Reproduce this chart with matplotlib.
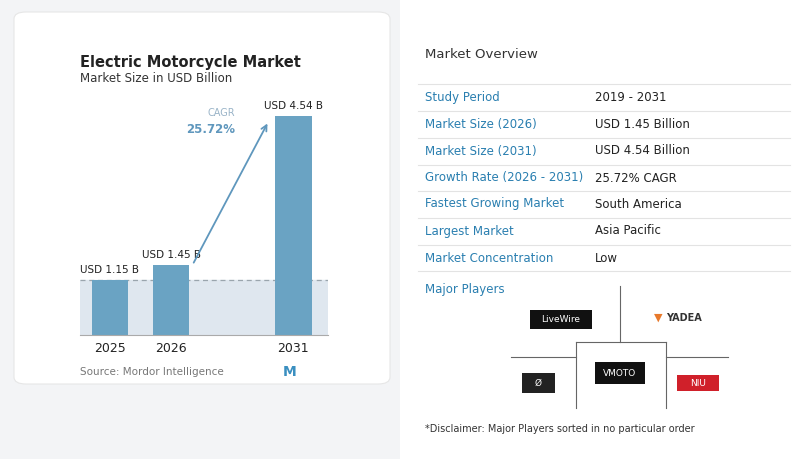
import matplotlib.pyplot as plt
from matplotlib.patches import FancyBboxPatch, Rectangle

years = ["2025", "2026", "2031"]
positions = [0, 1, 3]
sizes = [1.15, 1.45, 4.54]
size_labels = ["USD 1.15 B", "USD 1.45 B", "USD 4.54 B"]

overview_keys = ["Study Period", "Market Size (2026)", "Market Size (2031)",
                 "Growth Rate (2026 - 2031)", "Fastest Growing Market",
                 "Largest Market", "Market Concentration"]
overview_vals = ["2019 - 2031", "USD 1.45 Billion", "USD 4.54 Billion",
                 "25.72% CAGR", "South America", "Asia Pacific", "Low"]

W, H = 800, 459
BLUE = "#2a7fb0"
DARK = "#222222"

fig = plt.figure(figsize=(8, 4.59), dpi=100)
fig.patch.set_facecolor("#f3f4f6")


def px(x, y):
    return x / W, 1 - y / H


# cards (drawn under the axes)
fig.patches.append(FancyBboxPatch(px(14, 384), 376 / W, 372 / H,
                                  boxstyle="round,pad=0,rounding_size=0.015",
                                  transform=fig.transFigure, fc="white", ec="#e6e6e6",
                                  lw=0.8, zorder=-2))
fig.patches.append(Rectangle(px(400, 459), 400 / W, 459 / H,
                             transform=fig.transFigure, fc="white", ec="none", zorder=-2))

fig.text(*px(80, 62), "Electric Motorcycle Market", fontsize=10.5, fontweight="bold", color=DARK, va="center")
fig.text(*px(80, 79), "Market Size in USD Billion", fontsize=8.5, color="#333333", va="center")

# bar chart
ax = fig.add_axes([80 / W, 1 - 335 / H, 248 / W, 241 / H])
ax.set_zorder(1)
ax.set_xlim(-0.49, 3.57)
ax.set_ylim(0, 5)
ax.axhspan(0, sizes[0], color="#dfe7ef", zorder=0)
ax.bar(positions, sizes, width=0.6, color="#6aa3c3", zorder=2)
ax.axhline(sizes[0], color="#9aa5ad", ls=(0, (4, 3)), lw=0.9, zorder=1)
for p, s, lab in zip(positions, sizes, size_labels):
    ax.text(p, s + 0.1, lab, ha="center", va="bottom", fontsize=7.5, color=DARK)
ax.set_xticks(positions)
ax.set_xticklabels(years, fontsize=9, color=DARK)
ax.tick_params(length=0, pad=5)
ax.set_yticks([])
for sp in ["top", "right", "left"]:
    ax.spines[sp].set_visible(False)
ax.spines["bottom"].set_color("#aaaaaa")
ax.patch.set_alpha(0)
ax.annotate("", xy=(2.6, sizes[2] - 0.1), xytext=(1.35, sizes[1]),
            arrowprops=dict(arrowstyle="->", color="#5f97bd", lw=1.3))
ax.text(2.05, 4.55, "CAGR", ha="right", fontsize=7, color="#9ab4c8")
ax.text(2.05, 4.2, "25.72%", ha="right", fontsize=8.5, fontweight="bold", color="#5f97bd")

fig.text(*px(80, 372), "Source: Mordor Intelligence", fontsize=7.5, color="#777777", va="center")
fig.text(*px(290, 372), "M", fontsize=10, fontweight="bold", color="#3a8fc0", ha="center", va="center")

# overview
fig.text(*px(425, 55), "Market Overview", fontsize=9.5, color="#333333", va="center")
row_y = [97, 124, 151, 178, 204, 231, 258]
for y, k, v in zip(row_y, overview_keys, overview_vals):
    fig.text(*px(425, y), k, fontsize=8.5, color=BLUE, va="center")
    fig.text(*px(595, y), v, fontsize=8.5, color=DARK, va="center")
for y in [84, 111, 138, 165, 191, 218, 245, 271]:
    fig.lines.append(plt.Line2D([418 / W, 790 / W], [1 - y / H] * 2,
                                transform=fig.transFigure, color="#e3e3e3", lw=0.8))

fig.text(*px(425, 289), "Major Players", fontsize=8.5, color=BLUE, va="center")
grid = [((620, 286), (620, 342)), ((576, 342), (666, 342)), ((576, 342), (576, 408)),
        ((666, 342), (666, 408)), ((511, 357), (576, 357)), ((666, 357), (728, 357))]
for (x0, y0), (x1, y1) in grid:
    fig.lines.append(plt.Line2D([x0 / W, x1 / W], [1 - y0 / H, 1 - y1 / H],
                                transform=fig.transFigure, color="#666666", lw=0.8))

logos = [(530, 310, 62, 19, "#111111", "LiveWire", "white"),
         (595, 362, 50, 22, "#111111", "VMOTO", "white"),
         (522, 373, 33, 20, "#222222", "Ø", "white"),
         (677, 375, 42, 16, "#d0202a", "NIU", "white")]
for x, y, w, h, fc, t, tc in logos:
    fig.patches.append(Rectangle(px(x, y + h), w / W, h / H, transform=fig.transFigure, fc=fc, ec="none"))
    fig.text(*px(x + w / 2, y + h / 2), t, fontsize=6.5, color=tc, ha="center", va="center")
fig.text(*px(666, 318), "YADEA", fontsize=7, fontweight="bold", color="#333333", ha="left", va="center")
fig.text(*px(658, 318), "▼", fontsize=8, color="#e8792b", ha="center", va="center")

fig.text(*px(425, 429), "*Disclaimer: Major Players sorted in no particular order", fontsize=7, color="#333333", va="center")

fig.savefig("out.png", dpi=100, facecolor=fig.get_facecolor())
